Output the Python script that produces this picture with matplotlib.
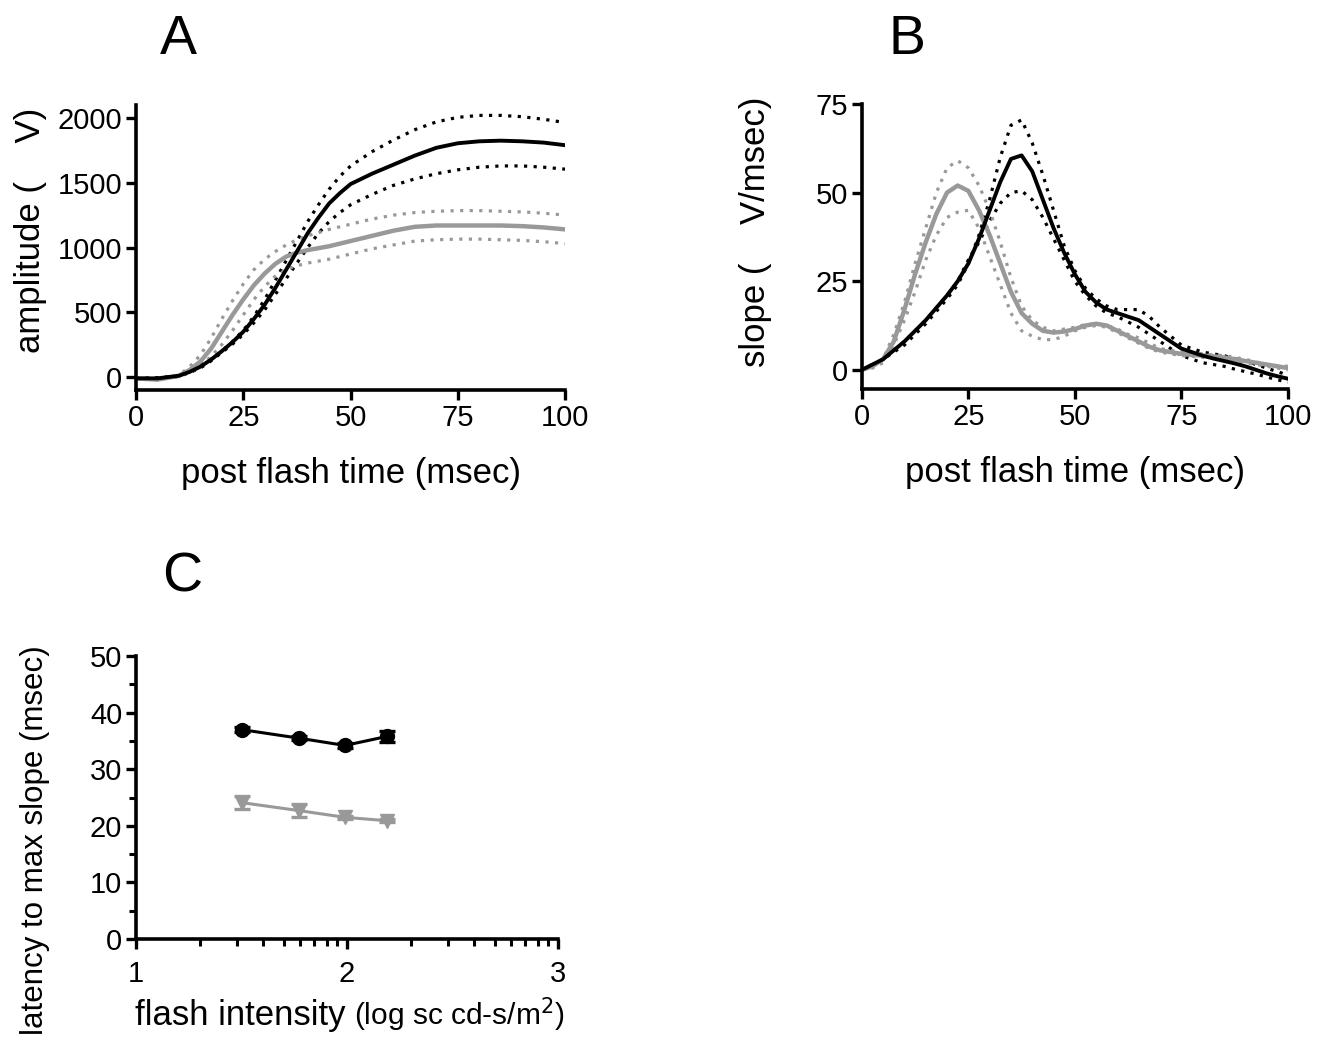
import numpy as np
import matplotlib
matplotlib.use('Agg')
import matplotlib.pyplot as plt
from matplotlib.ticker import FixedLocator, LogLocator, FuncFormatter, NullFormatter

plt.rcParams['font.family'] = ['Liberation Sans', 'DejaVu Sans']

GRAY = '#999999'

# panel A: amplitude vs post flash time
t_a = [0, 5, 10, 12.5, 15, 17.5, 20, 22.5, 25, 27.5, 30, 32.5, 35, 37.5, 40, 42.5, 45, 47.5,
       50, 55, 60, 65, 70, 75, 80, 85, 90, 95, 100]
amp_black = [-10, -10, 10, 40, 80, 135, 200, 270, 350, 450, 560, 690, 830, 970, 1110, 1230,
             1340, 1420, 1490, 1570, 1640, 1710, 1770, 1805, 1820, 1825, 1820, 1810, 1790]
amp_black_hi = [-10, -5, 10, 45, 90, 140, 200, 275, 360, 470, 600, 750, 900, 1050, 1200, 1330,
                1450, 1550, 1630, 1740, 1830, 1910, 1970, 2005, 2020, 2020, 2010, 1990, 1965]
amp_black_lo = [-10, -10, 5, 35, 70, 125, 190, 255, 330, 420, 520, 640, 760, 880, 1000, 1110,
                1200, 1270, 1330, 1410, 1480, 1530, 1570, 1600, 1620, 1630, 1630, 1620, 1605]
amp_gray = [-10, -20, 10, 55, 120, 220, 350, 480, 600, 710, 800, 875, 930, 960, 980, 995,
            1010, 1030, 1050, 1090, 1130, 1160, 1170, 1170, 1170, 1170, 1165, 1155, 1140]
amp_gray_hi = [-10, -15, 15, 80, 170, 300, 450, 590, 720, 830, 910, 970, 1020, 1060, 1090, 1115,
               1140, 1160, 1180, 1220, 1250, 1270, 1280, 1285, 1285, 1280, 1275, 1265, 1250]
amp_gray_lo = [-10, -20, 5, 35, 80, 160, 250, 360, 480, 600, 700, 780, 830, 860, 880, 895,
               910, 930, 950, 990, 1020, 1050, 1060, 1065, 1065, 1060, 1055, 1045, 1030]

# panel B: slope vs post flash time (every 2.5 msec)
t_b = [0, 2.5, 5, 7.5, 10, 12.5, 15, 17.5, 20, 22.5, 25, 27.5, 30, 32.5, 35, 37.5, 40, 42.5,
       45, 47.5, 50, 52.5, 55, 57.5, 60, 62.5, 65, 67.5, 70, 72.5, 75, 77.5, 80, 82.5, 85,
       87.5, 90, 92.5, 95, 97.5, 100]
slope_black = [0, 1.5, 3, 5.5, 8, 11, 14, 17.5, 21, 25, 30, 37, 45, 53, 59.5, 60.5, 56, 48,
               40, 33, 27, 22, 19, 17, 16, 15, 14, 12, 10, 8, 6, 5, 4, 3.2, 2.5, 1.8, 1,
               0, -1, -1.8, -2.5]
slope_black_hi = [0, 1.5, 3, 5, 7, 10, 13, 16.5, 20, 24, 30, 38, 48, 60, 69, 70.5, 64, 55,
                  45, 35, 28, 23, 20, 18, 17, 17, 17, 15, 12, 9.5, 7, 6, 5, 4.5, 4, 3.2,
                  2.5, 1.5, 0.5, -0.5, -1.5]
slope_black_lo = [0, 1.5, 3, 5.5, 8, 11, 14, 17.5, 21, 25, 31, 36, 42, 47, 50, 50.5, 48, 43,
                  37, 31, 25, 21, 18, 16, 15, 13.5, 12, 10, 8, 6, 4, 3, 2, 1.5, 1, 0.2,
                  -0.5, -1.2, -2, -2.8, -3.5]
slope_gray = [0, 1, 3, 8, 17, 27, 36, 44, 50, 52, 50.5, 45, 38, 30, 22, 16, 13, 11, 10.5,
              10.8, 11.5, 12.5, 13, 12.5, 11, 9.5, 8, 6.5, 5.5, 5, 4.5, 4.2, 4, 3.8, 3.5,
              3, 2.5, 2, 1.5, 1, 0.5]
slope_gray_hi = [0, 1, 3, 10, 19, 30, 40, 50, 57, 59, 57, 52, 45, 36, 26, 18, 14, 12, 11,
                 11.5, 12, 12.8, 13, 12.5, 11.5, 10, 9, 7.5, 6, 5.5, 5, 4.8, 4.5, 4.2, 4,
                 3.5, 3, 2.2, 1.5, 1.2, 1]
slope_gray_lo = [0, 0.5, 2, 7, 14, 22, 31, 38, 43, 44.5, 45, 40, 32, 24, 16, 11, 9.5, 8.5,
                 8.5, 9.5, 11, 12, 12.5, 12, 10.5, 9, 7.5, 6, 5, 4.5, 4, 3.8, 3.5, 3.2, 3,
                 2.5, 2, 1.5, 1, 0.5, 0]

# panel C: latency to max slope vs flash intensity (log units)
log_int = [1.5, 1.77, 1.99, 2.19]
lat_black = [37.0, 35.5, 34.2, 35.8]
lat_black_err = [0.4, 0.4, 0.4, 1.0]
lat_gray = [24.1, 22.7, 21.5, 20.9]
lat_gray_err = [1.2, 1.1, 0.3, 0.3]

fig = plt.figure(figsize=(13.3, 10.4), dpi=100)

TICK = 21
LAB = 25
DOT = (0, (1, 2))


def style(ax):
    ax.spines['top'].set_visible(False)
    ax.spines['right'].set_visible(False)
    for s in ('left', 'bottom'):
        ax.spines[s].set_linewidth(2.6)
    ax.tick_params(direction='out', length=7, width=2.4, labelsize=TICK, pad=3)
    ax.tick_params(which='minor', direction='out', length=5, width=2.2)


# A
axA = fig.add_axes([0.1023, 0.625, 0.3226, 0.274])
axA.plot(t_a, amp_black_hi, color='black', lw=2.3, ls=DOT)
axA.plot(t_a, amp_black_lo, color='black', lw=2.3, ls=DOT)
axA.plot(t_a, amp_gray_hi, color=GRAY, lw=2.3, ls=DOT)
axA.plot(t_a, amp_gray_lo, color=GRAY, lw=2.3, ls=DOT)
axA.plot(t_a, amp_gray, color=GRAY, lw=3.2)
axA.plot(t_a, amp_black, color='black', lw=2.8)
axA.set_xlim(0, 100)
axA.set_ylim(-100, 2100)
axA.set_xticks([0, 25, 50, 75, 100])
axA.set_yticks([0, 500, 1000, 1500, 2000])
style(axA)
axA.set_xlabel('post flash time (msec)', fontsize=LAB, labelpad=18)
axA.set_ylabel('amplitude (    V)', fontsize=LAB)
axA.yaxis.set_label_coords(-0.207, 0.56)

# B
axB = fig.add_axes([0.648, 0.626, 0.3203, 0.274])
axB.plot(t_b, slope_black_hi, color='black', lw=2.3, ls=DOT)
axB.plot(t_b, slope_black_lo, color='black', lw=2.3, ls=DOT)
axB.plot(t_b, slope_gray_hi, color=GRAY, lw=2.3, ls=DOT)
axB.plot(t_b, slope_gray_lo, color=GRAY, lw=2.3, ls=DOT)
axB.plot(t_b, slope_gray, color=GRAY, lw=3.2)
axB.plot(t_b, slope_black, color='black', lw=2.8)
axB.set_xlim(0, 100)
axB.set_ylim(-5.4, 75)
axB.set_xticks([0, 25, 50, 75, 100])
axB.set_yticks([0, 25, 50, 75])
style(axB)
axB.set_xlabel('post flash time (msec)', fontsize=LAB, labelpad=18)
axB.set_ylabel('slope (    V/msec)', fontsize=LAB)
axB.yaxis.set_label_coords(-0.211, 0.55)

# C
axC = fig.add_axes([0.1023, 0.0971, 0.3173, 0.2721])
xC = [10 ** v for v in log_int]
axC.errorbar(xC, lat_black, yerr=lat_black_err, color='black', lw=2.2, marker='o', ms=10,
             capsize=6, capthick=2.4, elinewidth=2.4)
axC.errorbar(xC, lat_gray, yerr=lat_gray_err, color=GRAY, lw=2.2, marker='v', ms=10,
             capsize=6, capthick=2.4, elinewidth=2.4)
axC.set_xscale('log')
axC.set_xlim(10, 1000)
axC.set_ylim(0, 50)
axC.xaxis.set_major_locator(FixedLocator([10, 100, 1000]))
axC.xaxis.set_major_formatter(FuncFormatter(lambda v, p: '%d' % round(np.log10(v))))
axC.xaxis.set_minor_locator(LogLocator(base=10, subs=np.arange(2, 10)))
axC.xaxis.set_minor_formatter(NullFormatter())
axC.set_yticks([0, 10, 20, 30, 40, 50])
axC.yaxis.set_minor_locator(FixedLocator([5, 15, 25, 35, 45]))
style(axC)
axC.tick_params(axis='x', pad=8)
fig.text(0.026, 0.192, 'latency to max slope (msec)', fontsize=22.5, rotation=90,
         ha='center', va='center')
fig.text(0.1015, 0.014, 'flash intensity', fontsize=LAB, ha='left', va='baseline')
fig.text(0.266, 0.014, '(log sc cd-s/m$^2$)', fontsize=21.5, ha='left', va='baseline')

fig.text(0.12, 0.962, 'A', fontsize=40, ha='left', va='center')
fig.text(0.668, 0.962, 'B', fontsize=40, ha='left', va='center')
fig.text(0.122, 0.445, 'C', fontsize=40, ha='left', va='center')

fig.savefig('out.png', dpi=100)
